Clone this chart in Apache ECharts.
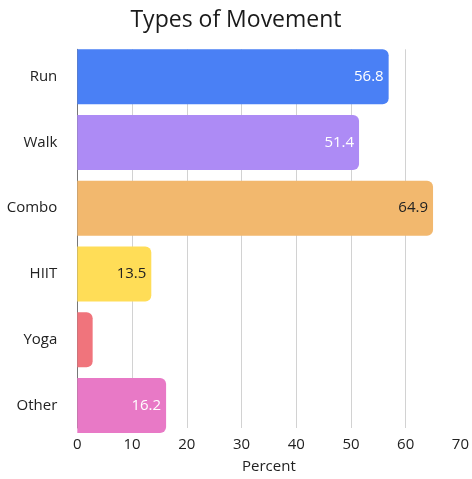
<!DOCTYPE html>
<html><head><meta charset="utf-8">
<script src="https://cdn.jsdelivr.net/npm/echarts@6/dist/echarts.min.js"></script>
<style>html,body{margin:0;padding:0;background:#fff}#c{width:472px;height:479px}</style>
</head><body><div id="c"></div>
<script>
var categories = ["Run", "Walk", "Combo", "HIIT", "Yoga", "Other"];
var values = [56.8, 51.4, 64.9, 13.5, 2.8, 16.2];
var barColors = ["#4a80f5", "#ad8bf5", "#f2b86e", "#ffdd57", "#f0747c", "#e879c6"];
var labelColors = ["#ffffff", "#ffffff", "#222222", "#222222", null, "#ffffff"];
var xTicks = [0, 10, 20, 30, 40, 50, 60, 70];

var FONT = "Open Sans";
var chart = echarts.init(document.getElementById('c'), null, {renderer: 'canvas'});
var data = values.map(function (v, i) {
  return {
    value: v,
    itemStyle: {color: barColors[i]},
    label: labelColors[i] ? {show: true, color: labelColors[i]} : {show: false}
  };
});
chart.setOption({
  animation: false,
  backgroundColor: '#fff',
  textStyle: {fontFamily: FONT},
  title: {
    text: 'Types of Movement', left: 'center', top: 4,
    textStyle: {fontFamily: FONT, fontSize: 23, fontWeight: 'normal', color: '#1a1a1a'}
  },
  grid: [
    {left: 77.3, right: 11, top: 43.8, height: 394.5, containLabel: false},
    {left: 77.3, right: 11, top: 49.3, bottom: 46.5, containLabel: false}
  ],
  xAxis: [
    {gridIndex: 0, type: 'value', min: xTicks[0], max: xTicks[xTicks.length - 1], interval: 10,
      axisLine: {show: false}, axisTick: {show: false}, axisLabel: {show: false}, splitLine: {show: false}},
    {gridIndex: 1, type: 'value', min: xTicks[0], max: xTicks[xTicks.length - 1], interval: 10,
      name: 'Percent', nameLocation: 'middle', nameGap: 31,
      nameTextStyle: {fontFamily: FONT, fontSize: 15, color: '#222'},
      axisLine: {show: false}, axisTick: {show: false},
      axisLabel: {fontFamily: FONT, fontSize: 15, color: '#222', margin: 9},
      splitLine: {show: true, showMinLine: false, showMaxLine: false, lineStyle: {color: '#d2d2d2', width: 1}}}
  ],
  yAxis: [
    {gridIndex: 0, type: 'category', data: categories, inverse: true,
      axisLine: {show: false}, axisTick: {show: false},
      axisLabel: {fontFamily: FONT, fontSize: 15, color: '#222', margin: 20},
      splitLine: {show: false}},
    {gridIndex: 1, type: 'value', min: 0, max: 1,
      axisLine: {show: true, lineStyle: {color: '#777', width: 1}},
      axisTick: {show: false}, axisLabel: {show: false}, splitLine: {show: false}}
  ],
  series: [{
    type: 'bar', xAxisIndex: 0, yAxisIndex: 0, z: 3,
    data: data,
    barCategoryGap: '16.3%',
    itemStyle: {borderRadius: [0, 6, 6, 0]},
    label: {position: 'insideRight', distance: 5, fontFamily: FONT, fontSize: 15}
  }]
});
</script></body></html>
